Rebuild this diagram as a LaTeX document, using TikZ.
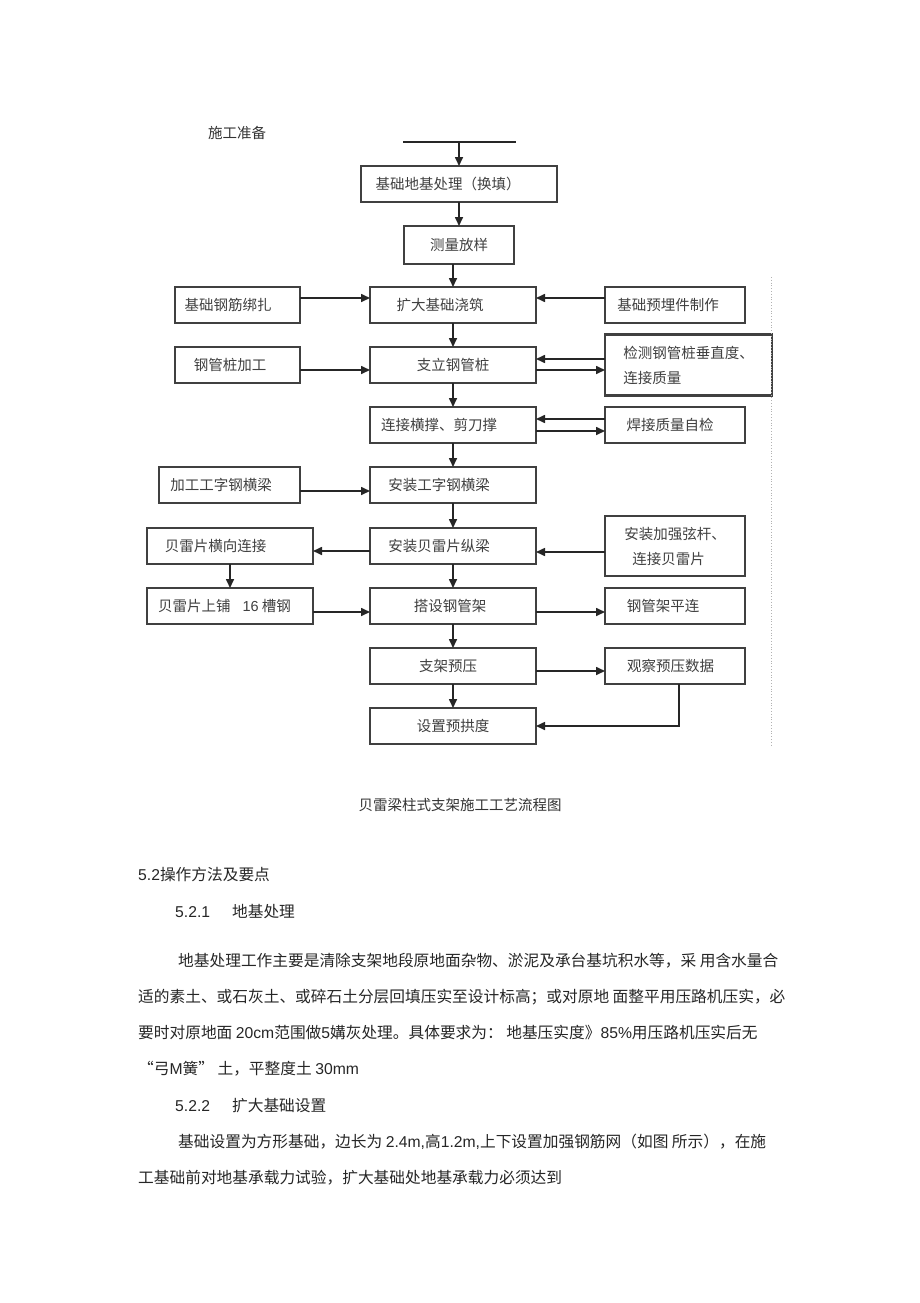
\documentclass[tikz,border=0pt]{standalone}
\usepackage{fontspec}
\setmainfont{Noto Sans CJK SC}
\newfontfamily\lat{Liberation Sans}
\usetikzlibrary{positioning,arrows.meta}
\tikzstyle{pbox}=[rectangle, draw=black!75, line width=1.2pt, minimum height=36pt,
                  inner sep=0pt, outer sep=0pt, text=black!75,
                  font=\fontsize{14.5pt}{25pt}\selectfont]
\tikzstyle{tbox}=[pbox, line width=2.2pt]
\tikzstyle{pline}=[black!85, line width=1.6pt]
\tikzstyle{parr}=[pline, -{Triangle[length=9pt,width=8pt]}]
\tikzstyle{ptext}=[anchor=west, inner sep=0pt, text=black!85,
                   font=\fontsize{15.7pt}{18pt}\selectfont]

\begin{document}
\begin{tikzpicture}[x=1pt,y=-1pt]
\useasboundingbox[fill=white] (0,0) rectangle (920,1303);

\node (PREP) [inner sep=0pt, text=black!80, font=\fontsize{14.5pt}{18pt}\selectfont] at (237,133) {施工准备};
\coordinate (TL) at (403,142);
\coordinate (TR) at (516,142);
\draw[pline] (TL) -- (TR);

\node (FOUND) [tbox, minimum width=196pt] at (459,184) {基础地基处理（换填）\hspace*{22pt}};
 \draw[parr] (FOUND.north |- TL) -- (FOUND.north);
\node (SURV) [pbox, minimum width=110pt, minimum height=38pt, below=24pt of FOUND] {测量放样};
 \draw[parr] (FOUND) -- (SURV);
\node (EXPB) [pbox, minimum width=166pt, below=23pt of SURV, xshift=-6pt] {扩大基础浇筑\hspace*{26pt}};
 \draw[parr] (SURV.south -| EXPB.north) -- (EXPB.north);
\node (REBAR) [pbox, minimum width=125pt, left=70pt of EXPB] {基础钢筋绑扎\hspace*{19pt}};
 \draw[parr] ([yshift=7pt]REBAR.east) -- ([yshift=7pt]EXPB.west);
\node (EMBED) [pbox, minimum width=140pt, right=69pt of EXPB] {基础预埋件制作\hspace*{14pt}};
 \draw[parr] ([yshift=7pt]EMBED.west) -- ([yshift=7pt]EXPB.east);

\node (PILE) [pbox, minimum width=166pt, below=24pt of EXPB] {支立钢管桩};
 \draw[parr] (EXPB) -- (PILE);
\node (PILEFAB) [pbox, minimum width=125pt, left=70pt of PILE] {钢管桩加工\hspace*{15pt}};
 \draw[parr] ([yshift=-5pt]PILEFAB.east) -- ([yshift=-5pt]PILE.west);
\node (CHECK) [tbox, minimum width=167pt, minimum height=61pt, align=left, right=69pt of PILE] {检测钢管桩垂直度、\\连接质量};
 \draw[parr] ([yshift=6pt]CHECK.west) -- ([yshift=6pt]PILE.east);
 \draw[parr] ([yshift=-5pt]PILE.east) -- ([yshift=-5pt]CHECK.west);

\node (BRACE) [pbox, minimum width=166pt, below=24pt of PILE] {连接横撑、剪刀撑\hspace*{28pt}};
 \draw[parr] (PILE) -- (BRACE);
\node (WELD) [pbox, minimum width=140pt, right=69pt of BRACE] {焊接质量自检\hspace*{10pt}};
 \draw[parr] ([yshift=6pt]WELD.west) -- ([yshift=6pt]BRACE.east);
 \draw[parr] ([yshift=-6pt]BRACE.east) -- ([yshift=-6pt]WELD.west);

\node (IBEAM) [pbox, minimum width=166pt, below=24pt of BRACE] {安装工字钢横梁\hspace*{28pt}};
 \draw[parr] (BRACE) -- (IBEAM);
\node (IBFAB) [tbox, minimum width=141pt, left=70pt of IBEAM] {加工工字钢横梁\hspace*{17pt}};
 \draw[parr] ([yshift=-6pt]IBFAB.east) -- ([yshift=-6pt]IBEAM.west);

\node (BAILEY) [pbox, minimum width=166pt, below=25pt of IBEAM] {安装贝雷片纵梁\hspace*{28pt}};
 \draw[parr] (IBEAM) -- (BAILEY);
\node (BLAT) [pbox, minimum width=166pt, left=57pt of BAILEY] {贝雷片横向连接\hspace*{29pt}};
 \draw[parr] ([yshift=-5pt]BAILEY.west) -- ([yshift=-5pt]BLAT.east);
\node (CHORD) [tbox, minimum width=140pt, minimum height=60pt, align=left, right=69pt of BAILEY] {安装加强弦杆、\\\hspace*{8pt}连接贝雷片};
 \draw[parr] ([yshift=-6pt]CHORD.west) -- ([yshift=-6pt]BAILEY.east);

\node (SCAF) [pbox, minimum width=166pt, below=24pt of BAILEY] {搭设钢管架\hspace*{6pt}};
 \draw[parr] (BAILEY) -- (SCAF);
\node (CHAN) [pbox, minimum width=166pt, left=57pt of SCAF] {贝雷片上铺\hspace*{12pt}{\lat 16} 槽钢\hspace*{11pt}};
 \draw[parr] (BLAT) -- (CHAN);
 \draw[parr] ([yshift=-6pt]CHAN.east) -- ([yshift=-6pt]SCAF.west);
\node (SCAFH) [pbox, minimum width=140pt, right=69pt of SCAF] {钢管架平连\hspace*{24pt}};
 \draw[parr] ([yshift=-6pt]SCAF.east) -- ([yshift=-6pt]SCAFH.west);

\node (PRELD) [pbox, minimum width=166pt, below=24pt of SCAF] {支架预压\hspace*{10pt}};
 \draw[parr] (SCAF) -- (PRELD);
\node (OBS) [pbox, minimum width=140pt, right=69pt of PRELD] {观察预压数据\hspace*{9pt}};
 \draw[parr] ([yshift=-5pt]PRELD.east) -- ([yshift=-5pt]OBS.west);

\node (CAMB) [pbox, minimum width=166pt, below=24pt of PRELD] {设置预拱度};
 \draw[parr] (PRELD) -- (CAMB);
 \draw[parr] ([xshift=4pt]OBS.south) |- (CAMB.east);

\draw[black!30, dotted, line width=0.8pt] (771,277) -- (771,745);

\node (CAP) [inner sep=0pt, text=black!80, font=\fontsize{14.5pt}{18pt}\selectfont] at (460,805) {贝雷梁柱式支架施工工艺流程图};

\node (H52) [ptext] at (138,874) {{\lat 5.2}操作方法及要点};
\node (H521) [ptext] at (175,912) {{\lat 5.2.1}\hspace*{22pt}地基处理};
\node (P1) [ptext] at (178,961) {地基处理工作主要是清除支架地段原地面杂物、淤泥及承台基坑积水等，采 用含水量合};
\node (P2) [ptext] at (138,997) {适的素土、或石灰土、或碎石土分层回填压实至设计标高；或对原地 面整平用压路机压实，必};
\node (P3) [ptext] at (138,1033) {要时对原地面 {\lat 20cm}范围做{\lat 5}媾灰处理。具体要求为： 地基压实度》{\lat 85\%}用压路机压实后无};
\node (P4) [ptext] at (138,1069) {“弓{\lat M}簧” 土，平整度土 {\lat 30mm}};
\node (H522) [ptext] at (175,1106) {{\lat 5.2.2}\hspace*{22pt}扩大基础设置};
\node (P5) [ptext] at (178,1142) {基础设置为方形基础，边长为 {\lat 2.4m,}高{\lat 1.2m,}上下设置加强钢筋网（如图 所示），在施};
\node (P6) [ptext] at (138,1178) {工基础前对地基承载力试验，扩大基础处地基承载力必须达到};

\end{tikzpicture}
\end{document}
